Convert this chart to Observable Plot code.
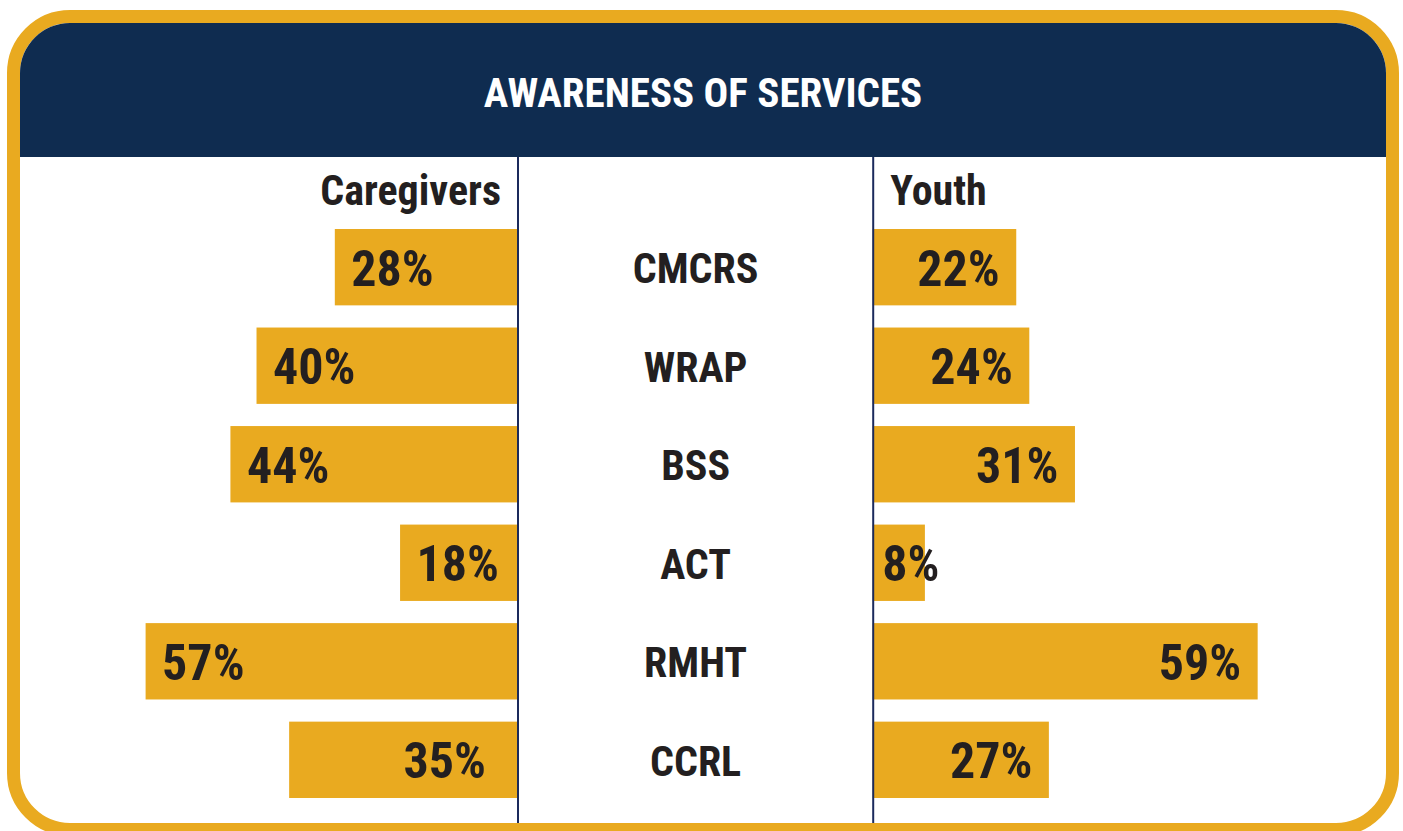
<!DOCTYPE html>
<html>
<head>
<meta charset="utf-8">
<script src="https://cdn.jsdelivr.net/npm/d3@7"></script>
<script src="https://cdn.jsdelivr.net/npm/@observablehq/plot@0.6"></script>
<style>
  html, body { margin: 0; padding: 0; background: #ffffff; overflow: hidden; width: 1403px; height: 831px; }
  #frame {
    position: absolute; left: 7px; top: 10px;
    width: 1366px; height: 800px;
    border: 13px solid #e9aa20; border-radius: 63px;
    background: #ffffff; overflow: hidden;
  }
  #header {
    height: 134px; background: #0f2c50; color: #ffffff;
    display: flex; align-items: center; justify-content: center;
    font-family: 'Liberation Sans Narrow', 'Arial Narrow', 'Roboto Condensed', 'DejaVu Sans Condensed', sans-serif;
    font-weight: bold; font-size: 41px; padding-top: 5px; box-sizing: border-box;
  }
  #chart svg { display: block; }
</style>
</head>
<body>
<div id="frame">
  <div id="header">AWARENESS OF SERVICES</div>
  <div id="chart"></div>
</div>
<script>
const categories = ["CMCRS", "WRAP", "BSS", "ACT", "RMHT", "CCRL"];
const caregivers = [28, 40, 44, 18, 57, 35];
const youth = [22, 24, 31, 8, 59, 27];
const groupLabels = ["Caregivers", "Youth"];

const FONT = "'Liberation Sans Narrow', 'Arial Narrow', 'Roboto Condensed', 'DejaVu Sans Condensed', sans-serif";
const GOLD = "#e9aa20", NAVY = "#1b2a5c", INK = "#231f20";
const G = 27.22; // half gap of the centre column, in percent units
const W = 1366, H = 666;

const careRows = categories.map((c, i) => ({category: c, value: caregivers[i], x1: -G, x2: -G - caregivers[i]}));
const youthRows = categories.map((c, i) => ({category: c, value: youth[i], x1: G, x2: G + youth[i]}));
const fmt = d => d.value + "%";

const chart = Plot.plot({
  width: W, height: H, margin: 0,
  style: {fontFamily: FONT, background: "transparent"},
  x: {domain: [-103.47, 105.89], range: [0, W], axis: null},
  y: {domain: categories, range: [72, 641], paddingInner: 0.225, paddingOuter: 0, round: false, axis: null},
  marks: [
    Plot.barX(careRows, {x1: "x1", x2: "x2", y: "category", fill: GOLD}),
    Plot.barX(youthRows, {x1: "x1", x2: "x2", y: "category", fill: GOLD}),
    Plot.ruleX([-G, G], {stroke: NAVY, strokeWidth: 2}),
    Plot.text([groupLabels[0]], {x: -G, text: d => d, frameAnchor: "top", lineAnchor: "bottom", textAnchor: "end", dx: -17, dy: 47, fontSize: 42, fontWeight: "bold", fill: INK}),
    Plot.text([groupLabels[1]], {x: G, text: d => d, frameAnchor: "top", lineAnchor: "bottom", textAnchor: "start", dx: 17, dy: 47, fontSize: 42, fontWeight: "bold", fill: INK}),
    Plot.text(categories, {x: 0, y: d => d, text: d => d, textAnchor: "middle", dy: 2, fontSize: 42, fontWeight: "bold", fill: INK}),
    Plot.text(careRows.filter(d => d.category !== "CCRL"), {x: "x2", y: "category", text: fmt, textAnchor: "start", dx: 16, dy: 2, fontSize: 50, fontWeight: "bold", fill: INK}),
    Plot.text(careRows.filter(d => d.category === "CCRL"), {x: "x1", y: "category", text: fmt, textAnchor: "end", dx: -32, dy: 2, fontSize: 50, fontWeight: "bold", fill: INK}),
    Plot.text(youthRows.filter(d => d.value >= 10), {x: "x2", y: "category", text: fmt, textAnchor: "end", dx: -17, dy: 2, fontSize: 50, fontWeight: "bold", fill: INK}),
    Plot.text(youthRows.filter(d => d.value < 10), {x: "x1", y: "category", text: fmt, textAnchor: "start", dx: 9, dy: 2, fontSize: 50, fontWeight: "bold", fill: INK})
  ]
});
document.getElementById("chart").appendChild(chart);
</script>
</body>
</html>
